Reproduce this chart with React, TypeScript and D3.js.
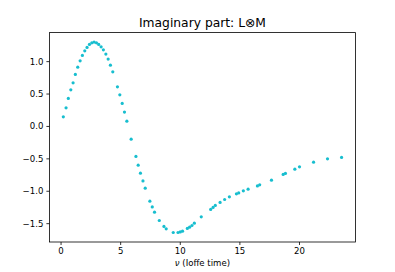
import React from "react";
import * as d3 from "d3";

const nu = [
  0.19, 0.42, 0.61, 0.82, 1.01, 1.2, 1.4, 1.6, 1.79, 1.99, 2.18, 2.38, 2.58, 2.77, 2.97, 3.16, 3.36, 3.55, 3.76, 3.95,
  4.14, 4.34, 4.73, 4.93, 5.13, 5.32, 5.52, 5.88, 6.28, 6.47, 6.66, 6.87, 7.06, 7.45, 7.65, 7.84, 8.24, 8.63, 8.82,
  9.41, 9.81, 10.0, 10.19, 10.59, 10.78, 10.98, 11.18, 11.76, 12.55, 12.75, 12.94, 13.34, 13.72, 14.12, 14.71, 14.9,
  15.29, 15.69, 16.47, 16.66, 17.65, 18.63, 18.82, 19.61, 20.0, 21.18, 22.35, 23.53,
];
const imag = [
  0.148, 0.287, 0.432, 0.565, 0.673, 0.802, 0.915, 1.012, 1.096, 1.167, 1.219, 1.265, 1.29, 1.301, 1.29, 1.265, 1.228,
  1.182, 1.116, 1.039, 0.946, 0.843, 0.611, 0.488, 0.355, 0.221, 0.082, -0.196, -0.463, -0.597, -0.721, -0.84, -0.952,
  -1.153, -1.241, -1.322, -1.451, -1.543, -1.58, -1.636, -1.636, -1.627, -1.616, -1.574, -1.554, -1.528, -1.492, -1.395,
  -1.281, -1.25, -1.219, -1.173, -1.127, -1.086, -1.04, -1.025, -0.994, -0.968, -0.917, -0.901, -0.829, -0.741, -0.725,
  -0.659, -0.623, -0.551, -0.5, -0.478,
];
const xTicks = [0, 5, 10, 15, 20];
const yTicks = [-1.5, -1.0, -0.5, 0.0, 0.5, 1.0];
const title = "Imaginary part: L⊗M";
const xLabel = "(Ioffe time)";

const W = 395;
const H = 272;
const L = 49.4, R = 355.5, T = 32.6, B = 242;

export default function App() {
  const xExt = d3.extent(nu) as [number, number];
  const yExt = d3.extent(imag) as [number, number];
  const xm = (xExt[1] - xExt[0]) * 0.05;
  const ym = (yExt[1] - yExt[0]) * 0.05;
  const x = d3.scaleLinear().domain([xExt[0] - xm, xExt[1] + xm]).range([L, R]);
  const y = d3.scaleLinear().domain([yExt[0] - ym, yExt[1] + ym]).range([B, T]);
  const fmt = (v: number) => (v < 0 ? "\u2212" : "") + Math.abs(v).toFixed(1);
  const font = "DejaVu Sans, sans-serif";
  return (
    <div style={{ position: "absolute", left: 0, top: 0 }}>
      <svg width={W} height={H} style={{ display: "block", background: "#fff" }} fontFamily={font}>
        <text x={(L + R) / 2} y={26.6} textAnchor="middle" fontSize={12.3} fill="#000">
          {title}
        </text>
        {nu.map((v, i) => (
          <circle key={i} cx={x(v)} cy={y(imag[i])} r={1.6} fill="#17becf" />
        ))}
        <rect x={L} y={T} width={R - L} height={B - T} fill="none" stroke="#000" strokeWidth={0.8} />
        {xTicks.map((t) => (
          <g key={t}>
            <line x1={x(t)} x2={x(t)} y1={B} y2={B + 3} stroke="#000" strokeWidth={0.8} />
            <text x={x(t)} y={254.3} textAnchor="middle" fontSize={8.57} fill="#000">
              {t}
            </text>
          </g>
        ))}
        {yTicks.map((t) => (
          <g key={t}>
            <line x1={L - 3} x2={L} y1={y(t)} y2={y(t)} stroke="#000" strokeWidth={0.8} />
            <text x={L - 6} y={y(t)} dy="0.35em" textAnchor="end" fontSize={8.57} fill="#000">
              {fmt(t)}
            </text>
          </g>
        ))}
        <text x={(L + R) / 2} y={266} textAnchor="middle" fontSize={8.57} fill="#000">
          <tspan fontStyle="italic">ν</tspan> {xLabel}
        </text>
      </svg>
    </div>
  );
}
